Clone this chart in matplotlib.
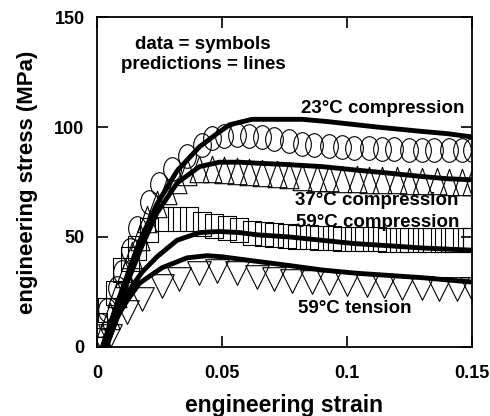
import matplotlib
matplotlib.use("Agg")
import matplotlib.pyplot as plt
from matplotlib.path import Path
from matplotlib.transforms import Affine2D

plt.rcParams["font.family"] = ["Liberation Sans", "DejaVu Sans"]
plt.rcParams["font.weight"] = "bold"

# data (symbols)
c23_strain = [0.001, 0.004, 0.008, 0.010, 0.013, 0.016, 0.021, 0.025, 0.030, 0.036,
              0.042, 0.046, 0.051, 0.056, 0.061, 0.066, 0.071, 0.077, 0.082, 0.087,
              0.093, 0.098, 0.103, 0.109, 0.114, 0.119, 0.125, 0.130, 0.135, 0.141,
              0.146, 0.150]
c23_stress = [10, 17, 27, 34, 44, 54, 66, 74, 81, 87,
              92, 95, 96, 96.5, 96, 95.5, 94.5, 93.5, 92.5, 92,
              91.5, 91, 90.5, 90.5, 90, 90, 89.5, 89.5, 89.5, 89.5,
              89.5, 89.5]

c37_strain = [0.002, 0.005, 0.008, 0.011, 0.014, 0.017, 0.020, 0.024, 0.028, 0.032,
              0.036, 0.041, 0.046, 0.051, 0.056, 0.061, 0.066, 0.072, 0.077, 0.082,
              0.088, 0.093, 0.098, 0.104, 0.109, 0.114, 0.120, 0.125, 0.130, 0.136,
              0.141, 0.146, 0.150]
c37_stress = [5, 14, 24, 33, 42, 50, 58, 65, 71, 76,
              79.5, 81, 81, 80.5, 80, 79.5, 79, 78.5, 78, 77.5,
              77, 77, 76.5, 76.5, 76, 76, 76, 75.5, 75.5, 75.5,
              75, 75, 75]

c59_strain = [0.0005, 0.004, 0.007, 0.010, 0.013, 0.016, 0.021, 0.027, 0.032, 0.037,
              0.042, 0.047, 0.052, 0.057, 0.062, 0.067, 0.071, 0.076, 0.080, 0.085,
              0.089, 0.094, 0.098, 0.103, 0.107, 0.112, 0.116, 0.121, 0.125, 0.130,
              0.134, 0.139, 0.143, 0.148, 0.150]
c59_stress = [10, 17, 24.5, 35, 40, 45, 53, 58, 58, 58,
              56, 55, 54, 53, 52, 51.5, 51, 50.5, 50, 50,
              49.5, 49.5, 49, 49, 49, 49, 48.5, 48.5, 48.5, 48.5,
              48.5, 48.5, 48.5, 48.5, 48.5]

t59_strain = [0.002, 0.005, 0.012, 0.018, 0.026, 0.033, 0.041, 0.048, 0.056, 0.064,
              0.071, 0.078, 0.086, 0.093, 0.100, 0.108, 0.115, 0.122, 0.130, 0.137,
              0.144, 0.150]
t59_stress = [3, 5, 16, 22, 27.5, 31, 33.5, 34.5, 33.5, 32,
              31, 30, 29.5, 29, 28.5, 28, 27.5, 27, 27, 26.5,
              26.5, 26.5]

# predictions (lines)
p23_strain = [0.0024, 0.006, 0.010, 0.017, 0.024, 0.032, 0.041, 0.048, 0.053, 0.062,
              0.072, 0.082, 0.092, 0.104, 0.112, 0.121, 0.130, 0.140, 0.150]
p23_stress = [1, 13, 26, 48, 65, 80, 91, 97, 101, 103.5,
              103.5, 103.5, 102.5, 101, 100, 99, 98, 97, 95.5]

p37_strain = [0.003, 0.007, 0.012, 0.018, 0.024, 0.032, 0.041, 0.049, 0.057, 0.065,
              0.075, 0.090, 0.103, 0.117, 0.130, 0.140, 0.150]
p37_stress = [1, 13, 29, 46, 61, 74.5, 82, 84, 84, 83.5,
              83, 82, 80.5, 79, 77.5, 76.5, 76]

p59c_strain = [0.004, 0.008, 0.013, 0.018, 0.024, 0.032, 0.041, 0.049, 0.057, 0.064,
               0.077, 0.090, 0.103, 0.117, 0.130, 0.140, 0.150]
p59c_stress = [1, 13, 26, 34, 41, 48.5, 52, 52.5, 52, 51,
               50, 48.5, 47, 46, 45, 44.5, 44]

p59t_strain = [0.004, 0.008, 0.012, 0.017, 0.026, 0.036, 0.044, 0.050, 0.060, 0.077,
               0.090, 0.104, 0.117, 0.130, 0.140, 0.150]
p59t_stress = [1, 13.5, 21, 29, 36, 40.5, 41.5, 41, 39.5, 37,
               35, 33.5, 32.5, 31.5, 30.5, 29.5]

labels = ["23\u00b0C compression", "37\u00b0C compression",
          "59\u00b0C compression", "59\u00b0C tension"]


def shape(verts, closed=True):
    codes = [Path.MOVETO] + [Path.LINETO] * (len(verts) - 1)
    if closed:
        verts = verts + [verts[0]]
        codes = codes + [Path.CLOSEPOLY]
    return Path(verts, codes)


ellipse = Path.unit_circle().transformed(Affine2D().scale(0.75, 1.0))
tri_up = shape([(-0.36, -0.5), (0.36, -0.5), (0.0, 0.5)])
tri_down = shape([(-0.5, 0.5), (0.5, 0.5), (0.0, -0.5)])
box = shape([(-0.375, -0.5), (0.375, -0.5), (0.375, 0.5), (-0.375, 0.5)])

fig = plt.figure(figsize=(4.9, 4.16), dpi=100)
ax = fig.add_axes([0.198, 0.166, 0.765, 0.793])

mk = dict(linestyle="none", markerfacecolor="none", markeredgecolor="black",
          markeredgewidth=0.8, zorder=2)
ax.plot(c23_strain, c23_stress, marker=ellipse, markersize=17, **mk)
ax.plot(c37_strain, c37_stress, marker=tri_up, markersize=19, **mk)
ax.plot(c59_strain, c59_stress, marker=box, markersize=17, **mk)
ax.plot(t59_strain, t59_stress, marker=tri_down, markersize=17, **mk)

for xs, ys in [(p23_strain, p23_stress), (p37_strain, p37_stress),
               (p59c_strain, p59c_stress), (p59t_strain, p59t_stress)]:
    ax.plot(xs, ys, color="black", linewidth=3.5, zorder=3)

ax.set_xlim(0, 0.15)
ax.set_ylim(0, 150)
ax.set_xticks([0, 0.05, 0.1, 0.15])
ax.set_xticklabels(["0", "0.05", "0.1", "0.15"])
ax.set_yticks([0, 50, 100, 150])
ax.tick_params(direction="in", length=8, width=1.2, top=True, right=True,
               labelsize=13)
ax.tick_params(axis="x", pad=13)
ax.tick_params(axis="y", pad=9)
for s in ax.spines.values():
    s.set_linewidth(1.3)

ax.set_xlabel("engineering strain", fontsize=16.5, fontweight="bold", labelpad=9)
ax.set_ylabel("engineering stress (MPa)", fontsize=16, fontweight="bold", labelpad=12)

tk = dict(ha="center", va="center", fontsize=13.5, fontweight="bold")
ax.text(0.0424, 137.7, "data = symbols", **tk)
ax.text(0.0424, 128.6, "predictions = lines", **tk)
ax.text(0.1144, 108.6, labels[0], **tk)
ax.text(0.112, 66.8, labels[1], **tk)
ax.text(0.1124, 56.8, labels[2], **tk)
ax.text(0.1032, 17.7, labels[3], **tk)

fig.savefig("out.png", dpi=100)
